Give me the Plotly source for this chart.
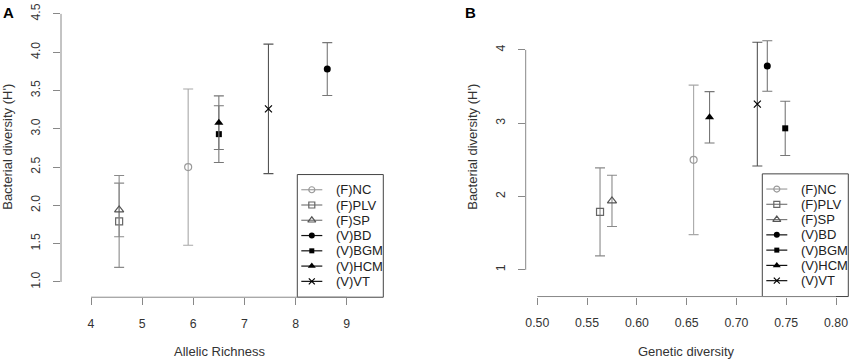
import plotly.graph_objects as go

# ---------------- data ----------------
groups = ["(F)NC", "(F)PLV", "(F)SP", "(V)BD", "(V)BGM", "(V)HCM", "(V)VT"]
allelic_richness = [5.90, 4.55, 4.55, 8.62, 6.50, 6.50, 7.47]
genetic_diversity = [0.657, 0.563, 0.575, 0.731, 0.749, 0.673, 0.721]
bacterial_diversity = [2.50, 1.79, 1.94, 3.78, 2.93, 3.08, 3.26]
bacterial_sd = [1.02, 0.60, 0.35, 0.345, 0.37, 0.35, 0.845]

left_xticks = [4, 5, 6, 7, 8, 9]
left_yticks = [1.0, 1.5, 2.0, 2.5, 3.0, 3.5, 4.0, 4.5]
right_xticks = [0.50, 0.55, 0.60, 0.65, 0.70, 0.75, 0.80]
right_yticks = [1, 2, 3, 4]

# ---------------- styles ----------------
symbols = ["circle-open", "square-open", "triangle-up-open", "circle", "square", "triangle-up", "x-thin-open"]
sizes = [7, 7, 8, 7, 6, 8, 7]
marker_colors = ["#9a9a9a", "#666666", "#555555", "#000000", "#000000", "#000000", "#000000"]
err_colors = ["#a8a8a8", "#8a8a8a", "#8a8a8a", "#777777", "#777777", "#777777", "#555555"]
legend_line_colors = ["#a0a0a0", "#7a7a7a", "#7a7a7a", "#111111", "#111111", "#111111", "#111111"]

W, H = 851, 360
FONT = "Liberation Sans, Arial, Helvetica, sans-serif"


def px(x):
    return x / W


def py(y):
    return 1 - y / H


panels = [
    dict(xa="x", ya="y", left=61.0, right=383.3, bottom=296.7, top=3.0,
         xrange=[3.4134, 9.7157], yrange=[0.8006, 4.6036],
         xvals=allelic_richness, xticks=left_xticks, yticks=left_yticks,
         xtext=[str(v) for v in left_xticks], ytext=["%.1f" % v for v in left_yticks],
         xtitle="Allelic Richness", xtitle_x=220.0, ytitle_x=8.0, letter="A", letter_x=8.7),
    dict(xa="x2", ya="y2", left=525.7, right=848.3, bottom=296.0, top=3.0,
         xrange=[0.48835, 0.81235], yrange=[0.6346, 4.5995],
         xvals=genetic_diversity, xticks=right_xticks, yticks=right_yticks,
         xtext=["%.2f" % v for v in right_xticks], ytext=[str(v) for v in right_yticks],
         xtitle="Genetic diversity", xtitle_x=686.7, ytitle_x=473.0, letter="B", letter_x=470.7),
]

fig = go.Figure()
shapes = []
annotations = []

for p in panels:
    for i, g in enumerate(groups):
        open_sym = symbols[i].endswith("open")
        fig.add_trace(go.Scatter(
            x=[p["xvals"][i]], y=[bacterial_diversity[i]],
            xaxis=p["xa"], yaxis=p["ya"], mode="markers", name=g, showlegend=False,
            marker=dict(symbol=symbols[i], size=sizes[i], color=marker_colors[i],
                        line=dict(width=1.2 if open_sym else 0, color=marker_colors[i])),
            error_y=dict(type="data", array=[bacterial_sd[i]], visible=True,
                         color=err_colors[i], thickness=1.1, width=5),
            cliponaxis=False,
        ))

    # R-style axis lines spanning only the tick range
    shapes.append(dict(type="line", xref=p["xa"], yref=p["ya"] + " domain",
                       x0=p["xticks"][0], x1=p["xticks"][-1], y0=0, y1=0,
                       line=dict(color="#888888", width=1)))
    shapes.append(dict(type="line", xref=p["xa"] + " domain", yref=p["ya"],
                       x0=0, x1=0, y0=p["yticks"][0], y1=p["yticks"][-1],
                       line=dict(color="#888888", width=1)))

    # axis titles
    annotations.append(dict(text=p["xtitle"], xref="paper", yref="paper",
                            x=px(p["xtitle_x"]), y=py(351.0), xanchor="center", yanchor="middle",
                            showarrow=False, font=dict(family=FONT, size=13, color="#333333")))
    annotations.append(dict(text="Bacterial diversity (H')", xref="paper", yref="paper",
                            x=px(p["ytitle_x"]), y=py(145.0), xanchor="center", yanchor="middle",
                            textangle=-90, showarrow=False,
                            font=dict(family=FONT, size=13, color="#333333")))
    annotations.append(dict(text="<b>%s</b>" % p["letter"], xref="paper", yref="paper",
                            x=px(p["letter_x"]), y=py(10.0), xanchor="center", yanchor="middle",
                            showarrow=False, font=dict(family=FONT, size=15, color="#000000")))

    # legend box (R style, bottom-right of plot region)
    box_w, box_h = 86.0, 123.7
    L = p["right"] - box_w
    T = p["bottom"] - box_h
    shapes.append(dict(type="rect", xref="paper", yref="paper",
                       x0=px(L), x1=px(p["right"]), y0=py(p["bottom"]), y1=py(T),
                       line=dict(color="#444444", width=1), fillcolor="rgba(0,0,0,0)",
                       layer="below"))
    for i, g in enumerate(groups):
        yy = T + 15.3 + i * 15.4
        shapes.append(dict(type="line", xref="paper", yref="paper",
                           x0=px(L + 4), x1=px(L + 25), y0=py(yy), y1=py(yy),
                           line=dict(color=legend_line_colors[i], width=1.2), layer="below"))
        open_sym = symbols[i].endswith("open")
        fig.add_trace(go.Scatter(
            x=[L + 14.5], y=[yy], xaxis="x3", yaxis="y3", mode="markers", showlegend=False,
            marker=dict(symbol=symbols[i], size=sizes[i] - 1, color=marker_colors[i],
                        line=dict(width=1.2 if open_sym else 0, color=marker_colors[i])),
            cliponaxis=False, hoverinfo="skip",
        ))
        annotations.append(dict(text=g, xref="paper", yref="paper",
                                x=px(L + 36.6), y=py(yy), xanchor="left", yanchor="middle",
                                showarrow=False, font=dict(family=FONT, size=13, color="#222222")))


def axis_common(tickvals, ticktext, rng, domain, anchor, angle=0):
    return dict(range=rng, domain=domain, anchor=anchor, tickvals=tickvals, ticktext=ticktext,
                showline=False, showgrid=False, zeroline=False, ticks="outside", ticklen=7,
                tickcolor="#888888", tickwidth=1, tickangle=angle,
                tickfont=dict(family=FONT, size=12.3, color="#333333"),
                fixedrange=True)


p1, p2 = panels
fig.update_layout(
    width=W, height=H, margin=dict(l=0, r=0, t=0, b=0),
    paper_bgcolor="white", plot_bgcolor="rgba(0,0,0,0)",
    showlegend=False,
    xaxis=axis_common(p1["xticks"], p1["xtext"], p1["xrange"], [px(p1["left"]), px(p1["right"])], "y"),
    yaxis=axis_common(p1["yticks"], p1["ytext"], p1["yrange"], [py(p1["bottom"]), py(p1["top"])], "x", -90),
    xaxis2=axis_common(p2["xticks"], p2["xtext"], p2["xrange"], [px(p2["left"]), px(p2["right"])], "y2"),
    yaxis2=axis_common(p2["yticks"], p2["ytext"], p2["yrange"], [py(p2["bottom"]), py(p2["top"])], "x2", -90),
    xaxis3=dict(range=[0, W], domain=[0, 1], anchor="y3", visible=False, fixedrange=True),
    yaxis3=dict(range=[H, 0], domain=[0, 1], anchor="x3", visible=False, fixedrange=True),
    shapes=shapes, annotations=annotations,
)
fig.update_yaxes(ticklabelstandoff=8, selector=dict(anchor="x"))
fig.update_yaxes(ticklabelstandoff=8, selector=dict(anchor="x2"))
fig.update_xaxes(ticklabelstandoff=8, selector=dict(anchor="y"))
fig.update_xaxes(ticklabelstandoff=8, selector=dict(anchor="y2"))

fig.write_html("out.html", config={"displayModeBar": False},
               post_script="document.body.style.margin='0';document.body.style.overflow='hidden';")
